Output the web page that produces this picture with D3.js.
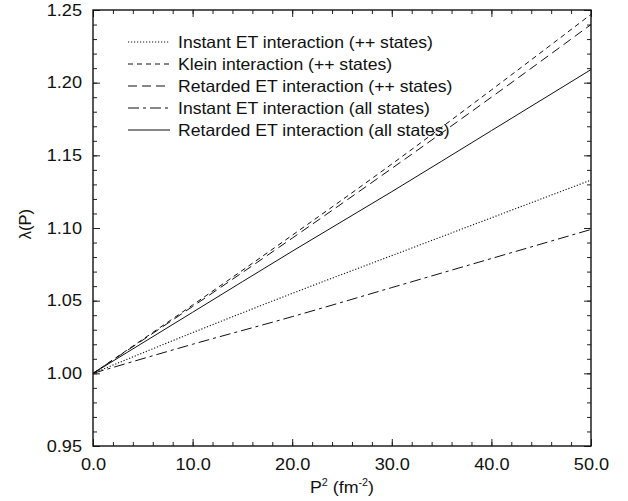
<!DOCTYPE html>
<html>
<head>
<meta charset="utf-8">
<script src="https://cdn.jsdelivr.net/npm/d3@7"></script>
<style>
  body { margin: 0; background: #fff; }
  text { font-family: "Liberation Sans", Arial, sans-serif; fill: #111; }
</style>
</head>
<body>
<div id="container"></div>
<script>
/* CONSTANTS AND GLOBALS */
const width = 628,
  height = 501,
  margin = { top: 10, bottom: 55, left: 93, right: 37 },
  stretch = 1.1; // text in the reference is a bit wide

/* DATA */
const pSquared = [0, 10, 20, 30, 40, 50];
const instantPP = [1.000, 1.028, 1.055, 1.081, 1.107, 1.133];
const kleinPP = [1.000, 1.047, 1.095, 1.144, 1.195, 1.247];
const retardedPP = [1.000, 1.046, 1.093, 1.141, 1.190, 1.240];
const instantAll = [1.000, 1.020, 1.039, 1.059, 1.079, 1.099];
const retardedAll = [1.000, 1.042, 1.084, 1.125, 1.167, 1.209];

const seriesNames = [
  "Instant ET interaction (++ states)",
  "Klein interaction (++ states)",
  "Retarded ET interaction (++ states)",
  "Instant ET interaction (all states)",
  "Retarded ET interaction (all states)"
];
const seriesValues = [instantPP, kleinPP, retardedPP, instantAll, retardedAll];
// dash patterns, one per series
const dashes = ["1.2,1.8", "5,4", "9,5", "11,4,3,4", null];

const xTicks = [0, 10, 20, 30, 40, 50];
const yTicks = [0.95, 1.00, 1.05, 1.10, 1.15, 1.20, 1.25];

/* SCALES */
const xScale = d3.scaleLinear()
  .domain([0, 50])
  .range([margin.left, width - margin.right]);

const yScale = d3.scaleLinear()
  .domain([0.95, 1.25])
  .range([height - margin.bottom, margin.top]);

/* HTML ELEMENTS */
const svg = d3.select("#container")
  .append("svg")
  .attr("width", width)
  .attr("height", height);

const plotH = height - margin.top - margin.bottom;
const plotW = width - margin.left - margin.right;

// minor ticks first, then major ticks with labels (all inward)
const xMinor = d3.range(0, 50.001, 2);
const yMinor = d3.range(0.95, 1.2501, 0.01);

svg.append("g")
  .attr("transform", `translate(0,${height - margin.bottom})`)
  .call(d3.axisBottom(xScale).tickValues(xMinor).tickSize(-4).tickFormat(""))
  .call(g => g.select(".domain").remove());
svg.append("g")
  .attr("transform", `translate(0,${margin.top})`)
  .call(d3.axisTop(xScale).tickValues(xMinor).tickSize(-4).tickFormat(""))
  .call(g => g.select(".domain").remove());
svg.append("g")
  .attr("transform", `translate(${margin.left},0)`)
  .call(d3.axisLeft(yScale).tickValues(yMinor).tickSize(-4).tickFormat(""))
  .call(g => g.select(".domain").remove());
svg.append("g")
  .attr("transform", `translate(${width - margin.right},0)`)
  .call(d3.axisRight(yScale).tickValues(yMinor).tickSize(-4).tickFormat(""))
  .call(g => g.select(".domain").remove());

const xAxis = svg.append("g")
  .attr("transform", `translate(0,${height - margin.bottom})`)
  .call(d3.axisBottom(xScale).tickValues(xTicks).tickSize(-7).tickPadding(12).tickFormat(d3.format(".1f")));
xAxis.select(".domain").remove();

svg.append("g")
  .attr("transform", `translate(0,${margin.top})`)
  .call(d3.axisTop(xScale).tickValues(xTicks).tickSize(-7).tickFormat(""))
  .call(g => g.select(".domain").remove());

const yAxis = svg.append("g")
  .attr("transform", `translate(${margin.left},0)`)
  .call(d3.axisLeft(yScale).tickValues(yTicks).tickSize(-7).tickPadding(11).tickFormat(d3.format(".2f")));
yAxis.select(".domain").remove();

svg.append("g")
  .attr("transform", `translate(${width - margin.right},0)`)
  .call(d3.axisRight(yScale).tickValues(yTicks).tickSize(-7).tickFormat(""))
  .call(g => g.select(".domain").remove());

// widen tick labels a little
svg.selectAll(".tick text")
  .attr("font-size", 16.5)
  .attr("x", function () { return +d3.select(this).attr("x") / stretch; })
  .attr("transform", `scale(${stretch},1)`);

svg.selectAll(".tick line").attr("stroke", "#222").attr("stroke-width", 1);

// frame
svg.append("rect")
  .attr("x", margin.left)
  .attr("y", margin.top)
  .attr("width", plotW)
  .attr("height", plotH)
  .attr("fill", "none")
  .attr("stroke", "#111")
  .attr("stroke-width", 1.4);

// curves
const line = d3.line()
  .x((d, i) => xScale(pSquared[i]))
  .y(d => yScale(d))
  .curve(d3.curveMonotoneX);

svg.selectAll("path.curve")
  .data(seriesValues)
  .join("path")
  .attr("class", "curve")
  .attr("d", d => line(d))
  .attr("fill", "none")
  .attr("stroke", "#111")
  .attr("stroke-width", (d, i) => i === 0 ? 1.1 : 1)
  .attr("stroke-dasharray", (d, i) => dashes[i]);

// legend
const legend = svg.append("g");
seriesNames.forEach((name, i) => {
  const y = 42 + i * 22;
  legend.append("line")
    .attr("x1", 128).attr("x2", 170)
    .attr("y1", y).attr("y2", y)
    .attr("stroke", "#111")
    .attr("stroke-width", 1)
    .attr("stroke-dasharray", dashes[i]);
  legend.append("text")
    .attr("transform", `translate(178,${y}) scale(1.08,1)`)
    .attr("dy", "0.35em")
    .attr("font-size", 16.3)
    .text(name);
});

// axis titles
const xt = svg.append("text")
  .attr("transform", `translate(${(margin.left + width - margin.right) / 2},493) scale(1.08,1)`)
  .attr("text-anchor", "middle")
  .attr("font-size", 16.5);
xt.append("tspan").text("P");
xt.append("tspan").attr("dy", -7).attr("font-size", 10).text("2");
xt.append("tspan").attr("dy", 7).text(" (fm");
xt.append("tspan").attr("dy", -7).attr("font-size", 10).text("-2");
xt.append("tspan").attr("dy", 7).text(")");

svg.append("text")
  .attr("transform", `translate(31,${(margin.top + height - margin.bottom) / 2 - 4}) rotate(-90)`)
  .attr("text-anchor", "middle")
  .attr("font-size", 16.5)
  .text("λ(P)");
</script>
</body>
</html>
